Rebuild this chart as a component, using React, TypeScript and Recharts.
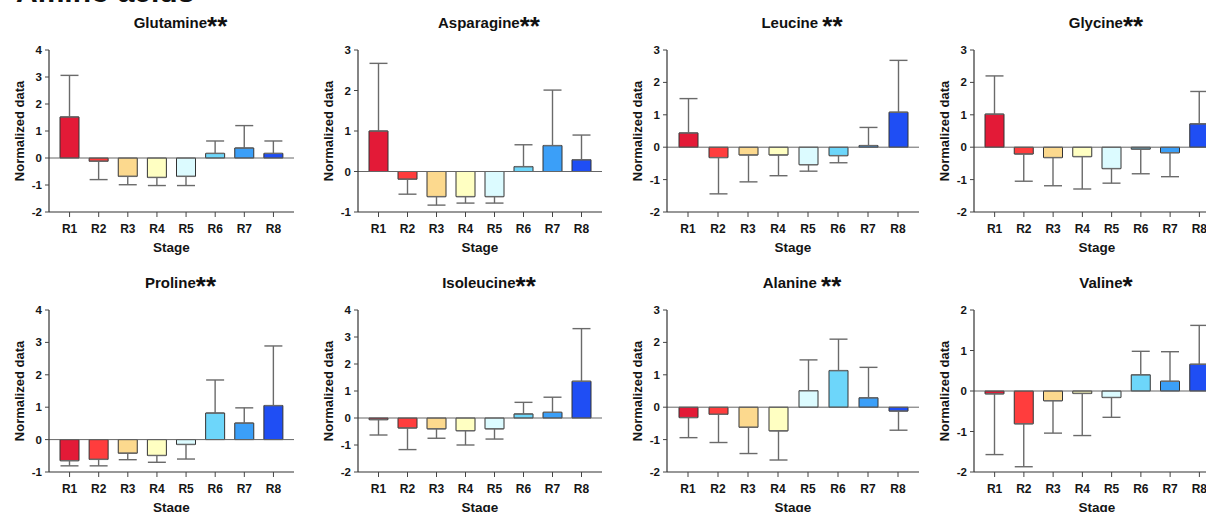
import React from 'react';
import { BarChart, Bar, XAxis, YAxis, ErrorBar, Cell, ReferenceLine } from 'recharts';

// ---------- data ----------
const stages = ['R1', 'R2', 'R3', 'R4', 'R5', 'R6', 'R7', 'R8'];
const stageColors = ['#e31a37', '#ff3d3d', '#fcd98e', '#ffffc2', '#dcfbff', '#6dd6fa', '#3b9ff8', '#1f4ef4'];

const glutamineMean = [1.52, -0.12, -0.68, -0.72, -0.68, 0.17, 0.37, 0.17];
const glutamineSD = [1.54, 0.68, 0.31, 0.3, 0.34, 0.46, 0.83, 0.46];
const asparagineMean = [1.0, -0.19, -0.62, -0.62, -0.62, 0.12, 0.64, 0.29];
const asparagineSD = [1.67, 0.37, 0.21, 0.16, 0.16, 0.54, 1.37, 0.61];
const leucineMean = [0.44, -0.32, -0.24, -0.24, -0.54, -0.26, 0.05, 1.08];
const leucineSD = [1.06, 1.12, 0.83, 0.64, 0.2, 0.22, 0.56, 1.6];
const glycineMean = [1.02, -0.21, -0.32, -0.29, -0.66, -0.06, -0.17, 0.72];
const glycineSD = [1.18, 0.84, 0.87, 1.0, 0.45, 0.76, 0.74, 1.0];
const prolineMean = [-0.65, -0.61, -0.42, -0.49, -0.15, 0.82, 0.51, 1.05];
const prolineSD = [0.16, 0.2, 0.2, 0.21, 0.45, 1.02, 0.47, 1.84];
const isoleucineMean = [-0.06, -0.37, -0.4, -0.47, -0.4, 0.15, 0.21, 1.36];
const isoleucineSD = [0.57, 0.8, 0.35, 0.53, 0.38, 0.43, 0.56, 1.95];
const alanineMean = [-0.32, -0.22, -0.62, -0.73, 0.51, 1.13, 0.29, -0.12];
const alanineSD = [0.62, 0.87, 0.81, 0.9, 0.95, 0.97, 0.94, 0.59];
const valineMean = [-0.07, -0.81, -0.24, -0.06, -0.16, 0.4, 0.24, 0.66];
const valineSD = [1.5, 1.06, 0.8, 1.04, 0.49, 0.58, 0.73, 0.96];

const ticksM2to4 = [-2, -1, 0, 1, 2, 3, 4];
const ticksM1to3 = [-1, 0, 1, 2, 3];
const ticksM2to3 = [-2, -1, 0, 1, 2, 3];
const ticksM1to4 = [-1, 0, 1, 2, 3, 4];
const ticksM2to2 = [-2, -1, 0, 1, 2];

const titles = ['Glutamine', 'Asparagine', 'Leucine ', 'Glycine', 'Proline', 'Isoleucine', 'Alanine ', 'Valine'];
const titleStars = ['**', '**', '**', '**', '**', '**', '**', '*'];

const panels = [
  { mean: glutamineMean, sd: glutamineSD, ticks: ticksM2to4 },
  { mean: asparagineMean, sd: asparagineSD, ticks: ticksM1to3 },
  { mean: leucineMean, sd: leucineSD, ticks: ticksM2to3 },
  { mean: glycineMean, sd: glycineSD, ticks: ticksM2to3 },
  { mean: prolineMean, sd: prolineSD, ticks: ticksM1to4 },
  { mean: isoleucineMean, sd: isoleucineSD, ticks: ticksM2to4 },
  { mean: alanineMean, sd: alanineSD, ticks: ticksM2to3 },
  { mean: valineMean, sd: valineSD, ticks: ticksM2to2 },
];

// ---------- layout ----------
const plotLefts = [49, 358, 667, 974];
const plotWidths = [245, 244, 252, 246];
const rowTops = [0, 260];
const YW = 49;
const RM = 8;
const PANEL_H = 260;
const M_TOP = 50;
const M_BOTTOM = 18;
const XH = 30;
const FONT = "Arial, 'Liberation Sans', Helvetica, sans-serif";

function Panel({ idx }: { idx: number }) {
  const cfg = panels[idx];
  const col = idx % 4;
  const row = Math.floor(idx / 4);
  const plotW = plotWidths[col];
  const W = YW + plotW + RM;
  const data = stages.map((s, i) => ({
    stage: s,
    value: cfg.mean[i],
    err: cfg.mean[i] >= 0 ? [0, cfg.sd[i]] : [cfg.sd[i], 0],
  }));
  const domain = [cfg.ticks[0], cfg.ticks[cfg.ticks.length - 1]];
  const plotH = PANEL_H - M_TOP - M_BOTTOM - XH;
  const cx = YW + plotW / 2;
  return (
    <div style={{ position: 'absolute', left: plotLefts[col] - YW, top: rowTops[row], width: W, height: PANEL_H }}>
      <BarChart
        width={W}
        height={PANEL_H}
        data={data}
        margin={{ top: M_TOP, right: RM, bottom: M_BOTTOM, left: 0 }}
        barSize={19}
      >
        <XAxis
          xAxisId="b"
          dataKey="stage"
          height={XH}
          padding={{ left: 6, right: 6 }}
          interval={0}
          tickSize={5}
          tickMargin={7}
          stroke="#333"
          axisLine={{ stroke: '#333', strokeWidth: 1.2 }}
          tickLine={{ stroke: '#444' }}
          tick={{ fill: '#151515', fontSize: 12, fontWeight: 'bold', fontFamily: FONT }}
        />
        <XAxis
          xAxisId="t"
          dataKey="stage"
          orientation="top"
          height={0}
          tick={false}
          tickLine={false}
          axisLine={{ stroke: '#8a8a8a', strokeWidth: 1.2 }}
        />
        <YAxis
          yAxisId="l"
          domain={domain}
          ticks={cfg.ticks}
          width={YW}
          interval={0}
          allowDataOverflow
          tickSize={4}
          tickMargin={3}
          axisLine={{ stroke: '#333', strokeWidth: 1.2 }}
          tickLine={{ stroke: '#444' }}
          tick={{ fill: '#151515', fontSize: 11.5, fontWeight: 'bold', fontFamily: FONT }}
        />
        <YAxis
          yAxisId="r"
          orientation="right"
          domain={domain}
          width={0}
          tick={false}
          tickLine={false}
          axisLine={{ stroke: '#8a8a8a', strokeWidth: 1.2 }}
        />
        <Bar xAxisId="b" yAxisId="l" dataKey="value" isAnimationActive={false} stroke="#333" strokeWidth={1}>
          {data.map((d, i) => (
            <Cell key={d.stage} fill={stageColors[i]} />
          ))}
          <ErrorBar dataKey="err" width={9} stroke="#6a6a6a" strokeWidth={1.4} direction="y" />
        </Bar>
        <ReferenceLine xAxisId="b" yAxisId="l" y={0} stroke="#666" strokeWidth={1} />
      </BarChart>
      <svg
        width={W}
        height={PANEL_H}
        style={{ position: 'absolute', left: 0, top: 0, pointerEvents: 'none', overflow: 'visible' }}
      >
        <text
          x={cx + 9}
          y={28}
          textAnchor="middle"
          fontFamily={FONT}
          fontSize={15}
          fontWeight="bold"
          fill="#111"
        >
          {titles[idx]}
          <tspan fontSize={26} dy={7}>{titleStars[idx]}</tspan>
        </text>
        <text
          x={19}
          y={M_TOP + plotH / 2}
          transform={`rotate(-90 19 ${M_TOP + plotH / 2})`}
          textAnchor="middle"
          dominantBaseline="central"
          fontFamily={FONT}
          fontSize={13}
          fontWeight="bold"
          fill="#151515"
        >
          Normalized data
        </text>
        <text
          x={cx}
          y={M_TOP + plotH + 40}
          textAnchor="middle"
          fontFamily={FONT}
          fontSize={13.5}
          fontWeight="bold"
          fill="#151515"
        >
          Stage
        </text>
      </svg>
    </div>
  );
}

export default function App() {
  return (
    <div
      style={{
        position: 'absolute',
        left: 0,
        top: 0,
        width: 1206,
        height: 512,
        overflow: 'hidden',
        background: '#fff',
        fontFamily: FONT,
      }}
    >
      <svg width={1206} height={20} style={{ position: 'absolute', left: 0, top: 0 }}>
        <text x={16} y={2} fontFamily={FONT} fontSize={30} fontWeight="bold" fill="#111">
          Amino acids
        </text>
      </svg>
      {panels.map((_, i) => (
        <Panel key={i} idx={i} />
      ))}
    </div>
  );
}
